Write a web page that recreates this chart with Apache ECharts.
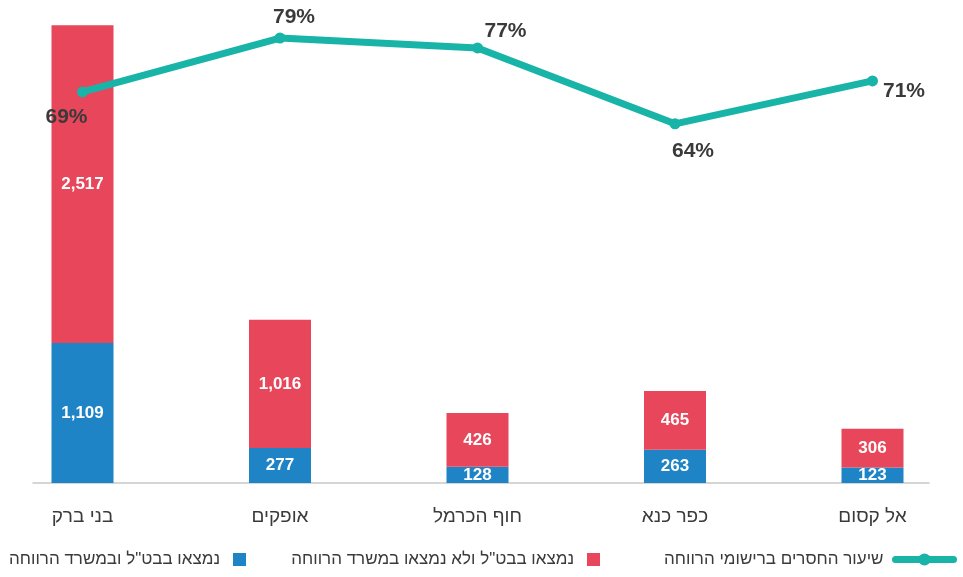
<!DOCTYPE html>
<html>
<head>
<meta charset="utf-8">
<script src="https://cdn.jsdelivr.net/npm/echarts@6/dist/echarts.min.js"></script>
<style>
  html, body { margin: 0; padding: 0; background: #fff; }
  #chart-container { width: 963px; height: 577px; }
</style>
</head>
<body>
<div id="chart-container"></div>
<script>
var dom = document.getElementById("chart-container");
var myChart = echarts.init(dom, null, { renderer: "canvas" });

const categories = ["בני ברק", "אופקים", "חוף הכרמל", "כפר כנא", "אל קסום"];
const bothValues = [1109, 277, 128, 263, 123];
const onlyBtlValues = [2517, 1016, 426, 465, 306];
const missingRate = [69.4, 79.2, 77.4, 63.6, 71.4];

const seriesNames = [
  "נמצאו בבט\"ל ובמשרד הרווחה",
  "נמצאו בבט\"ל ולא נמצאו במשרד הרווחה",
  "שיעור החסרים ברישומי הרווחה",
];

const FONT = "'Liberation Sans', 'DejaVu Sans', sans-serif";
const TEXT = "#3a3a3a";

// where each percent label sits around its point
const rateLabelPos = [
  { position: "bottom", offset: [-16, 4] },
  { position: "top", offset: [14, 0] },
  { position: "top", offset: [28, 4] },
  { position: "bottom", offset: [18, 6] },
  { position: "right", offset: [0, 10] },
];

const barLabel = {
  show: true,
  position: "inside",
  color: "#fff",
  fontFamily: FONT,
  fontWeight: "bold",
  fontSize: 17,
  formatter: (p) => p.value.toLocaleString("en-US"),
};

function legendFor(name, right, extra) {
  return Object.assign(
    {
      bottom: 4,
      right: right,
      align: "right",
      itemWidth: 13,
      itemHeight: 13,
      textStyle: { fontFamily: FONT, fontSize: 17, color: TEXT, padding: [0, 8, 0, 0] },
      data: [name],
    },
    extra || {}
  );
}

var option = {
  animation: false,
  grid: [
    // data grid: first/last category on the edges
    { left: 82.5, right: 90.5, top: 16, bottom: 94 },
    // only used for the baseline
    { left: 33, right: 34, top: 16, bottom: 94 },
  ],
  xAxis: [
    {
      type: "category",
      data: categories,
      boundaryGap: false,
      gridIndex: 0,
      axisLine: { show: false },
      axisTick: { show: false },
      axisLabel: { fontFamily: FONT, fontSize: 19, color: TEXT, margin: 24 },
    },
    {
      type: "value",
      gridIndex: 1,
      axisLine: { show: true, lineStyle: { color: "#c8c8c8", width: 1.5 } },
      axisTick: { show: false },
      axisLabel: { show: false },
      splitLine: { show: false },
    },
  ],
  yAxis: [
    { type: "value", gridIndex: 0, min: 0, max: 3700, show: false, splitLine: { show: false } },
    { type: "value", gridIndex: 0, min: -1.7, max: 83.2, show: false, splitLine: { show: false } },
    { type: "value", gridIndex: 1, show: false, splitLine: { show: false } },
  ],
  legend: [
    legendFor(seriesNames[2], 1, {
      itemWidth: 58,
      itemHeight: 15,
      lineStyle: { width: 7, cap: "round" },
      textStyle: { fontFamily: FONT, fontSize: 17, color: TEXT, padding: [0, 7, 0, 0] },
    }),
    legendFor(seriesNames[1], 358, { icon: "rect" }),
    legendFor(seriesNames[0], 712, { icon: "rect" }),
  ],
  series: [
    {
      name: seriesNames[0],
      type: "bar",
      stack: "total",
      barWidth: 62,
      data: bothValues,
      itemStyle: { color: "#1e84c6" },
      label: barLabel,
    },
    {
      name: seriesNames[1],
      type: "bar",
      stack: "total",
      barWidth: 62,
      data: onlyBtlValues,
      itemStyle: { color: "#e8465a" },
      label: barLabel,
    },
    {
      name: seriesNames[2],
      type: "line",
      yAxisIndex: 1,
      data: missingRate.map((v, i) => ({ value: v, label: rateLabelPos[i] })),
      symbol: "circle",
      symbolSize: 11,
      lineStyle: { width: 7, color: "#18b4a8" },
      itemStyle: { color: "#18b4a8" },
      label: {
        show: true,
        color: TEXT,
        fontFamily: FONT,
        fontWeight: "bold",
        fontSize: 21,
        formatter: (p) => Math.round(p.value) + "%",
      },
      z: 5,
    },
  ],
};

myChart.setOption(option);
window.addEventListener("resize", myChart.resize);
</script>
</body>
</html>
